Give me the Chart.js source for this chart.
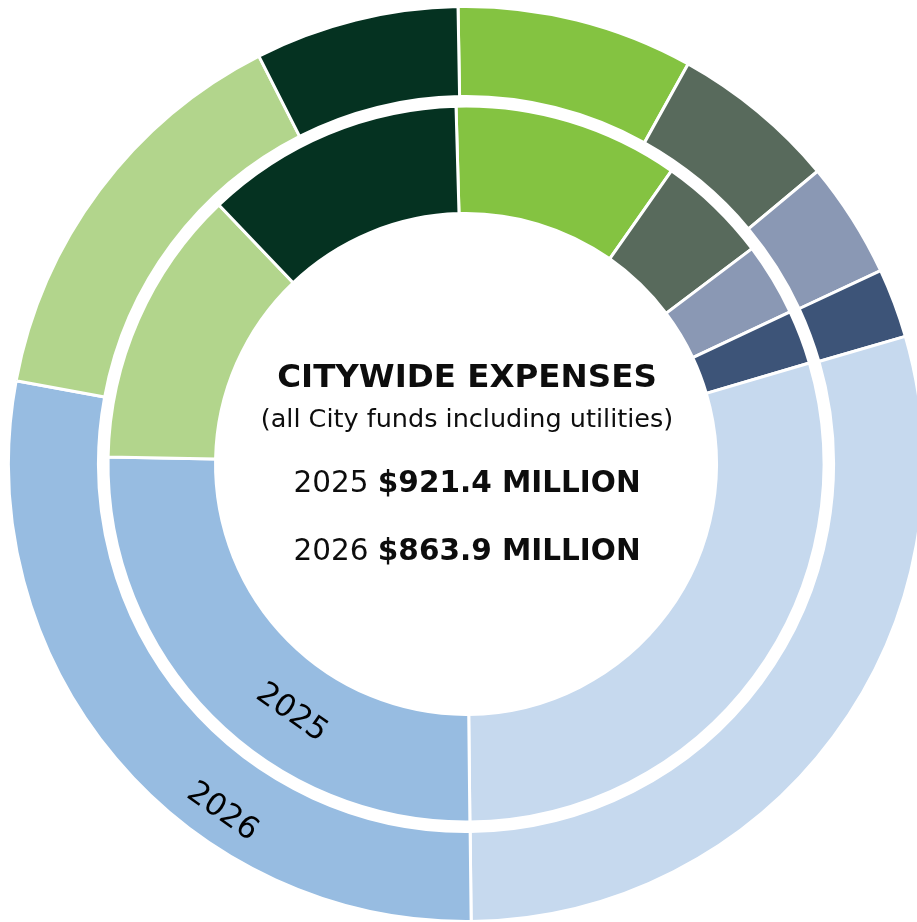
<!DOCTYPE html>
<html>
<head>
<meta charset="utf-8">
<script src="https://cdn.jsdelivr.net/npm/chart.js@4.4.1/dist/chart.umd.min.js"></script>
<style>
  html, body { margin: 0; padding: 0; background: #ffffff; overflow: hidden; }
  #wrap { position: relative; width: 917px; height: 922px; }
</style>
</head>
<body>
<div id="wrap"><canvas id="gastosChart"></canvas></div>
<script>
// Las categorías no aparecen en la imagen
const categories = ['Category 1', 'Category 2', 'Category 3', 'Category 4',
  'Category 5', 'Category 6', 'Category 7', 'Category 8'];
const values2025 = [93.7, 46.1, 30.3, 22.4, 270.7, 234.8, 115.8, 107.6];
const values2026 = [72.1, 50.8, 35.5, 21.1, 253.3, 242.7, 126.2, 62.2];
const colors = ['#84c341', '#586a5c', '#8a98b4', '#3d5478',
  '#c6d9ee', '#97bce1', '#b2d58c', '#053221'];
const years = ['2025', '2026'];
const totals = ['$921.4 MILLION', '$863.9 MILLION'];
const title = 'CITYWIDE EXPENSES';
const subtitle = '(all City funds including utilities)';

const FONT = '"DejaVu Sans", sans-serif';

const centerText = {
  id: 'centerText',
  afterDraw(chart) {
    const arc = chart.getDatasetMeta(2).data[0];
    if (!arc) return;
    const ctx = chart.ctx;
    const cx = arc.x + 1;
    const cy = arc.y;
    ctx.save();
    ctx.fillStyle = '#0d0d0d';
    ctx.textBaseline = 'alphabetic';
    ctx.textAlign = 'center';

    ctx.font = `bold 32.5px ${FONT}`;
    ctx.fillText(title, cx, cy - 77);
    ctx.font = `25.5px ${FONT}`;
    ctx.fillText(subtitle, cx, cy - 37);

    // líneas con año normal + total en negrita
    ctx.textAlign = 'left';
    [28, 96].forEach((dy, i) => {
      ctx.font = `29.5px ${FONT}`;
      const a = years[i] + ' ';
      const wa = ctx.measureText(a).width;
      ctx.font = `bold 29.5px ${FONT}`;
      const wb = ctx.measureText(totals[i]).width;
      const x0 = cx - (wa + wb) / 2;
      ctx.font = `29.5px ${FONT}`;
      ctx.fillText(a, x0, cy + dy);
      ctx.font = `bold 29.5px ${FONT}`;
      ctx.fillText(totals[i], x0 + wa, cy + dy);
    });

    // etiquetas de año sobre los anillos
    const rings = [
      { meta: chart.getDatasetMeta(2), text: years[0], f: 0.5 },
      { meta: chart.getDatasetMeta(0), text: years[1], f: 0.64 },
    ];
    const ang = 215;
    rings.forEach(r => {
      const el = r.meta.data[0];
      const rad = el.innerRadius + r.f * (el.outerRadius - el.innerRadius);
      const t = (ang - 90) * Math.PI / 180;
      ctx.save();
      ctx.translate(el.x + rad * Math.cos(t), el.y + rad * Math.sin(t));
      ctx.rotate((ang - 180) * Math.PI / 180);
      ctx.textAlign = 'center';
      ctx.textBaseline = 'middle';
      ctx.font = `31px ${FONT}`;
      ctx.fillStyle = '#000000';
      ctx.fillText(r.text, 0, 0);
      ctx.restore();
    });
    ctx.restore();
  },
};

new Chart(document.getElementById('gastosChart'), {
  type: 'doughnut',
  data: {
    labels: categories,
    datasets: [
      {
        label: years[1],
        data: values2026,
        backgroundColor: colors,
        borderColor: '#ffffff',
        borderWidth: 3,
        rotation: -1.0,
        weight: 90,
      },
      {
        label: 'spacer',
        data: [1],
        backgroundColor: 'rgba(0,0,0,0)',
        borderWidth: 0,
        weight: 9.5,
      },
      {
        label: years[0],
        data: values2025,
        backgroundColor: colors,
        borderColor: '#ffffff',
        borderWidth: 3,
        rotation: -1.6,
        weight: 107.5,
      },
    ],
  },
  options: {
    responsive: true,
    maintainAspectRatio: false,
    animation: false,
    radius: 457.5,
    cutout: '54.75%',
    layout: { padding: { left: 15, top: 6, right: 0, bottom: 0 } },
    plugins: {
      legend: { display: false },
      tooltip: { enabled: false },
    },
  },
  plugins: [centerText],
});
</script>
</body>
</html>
